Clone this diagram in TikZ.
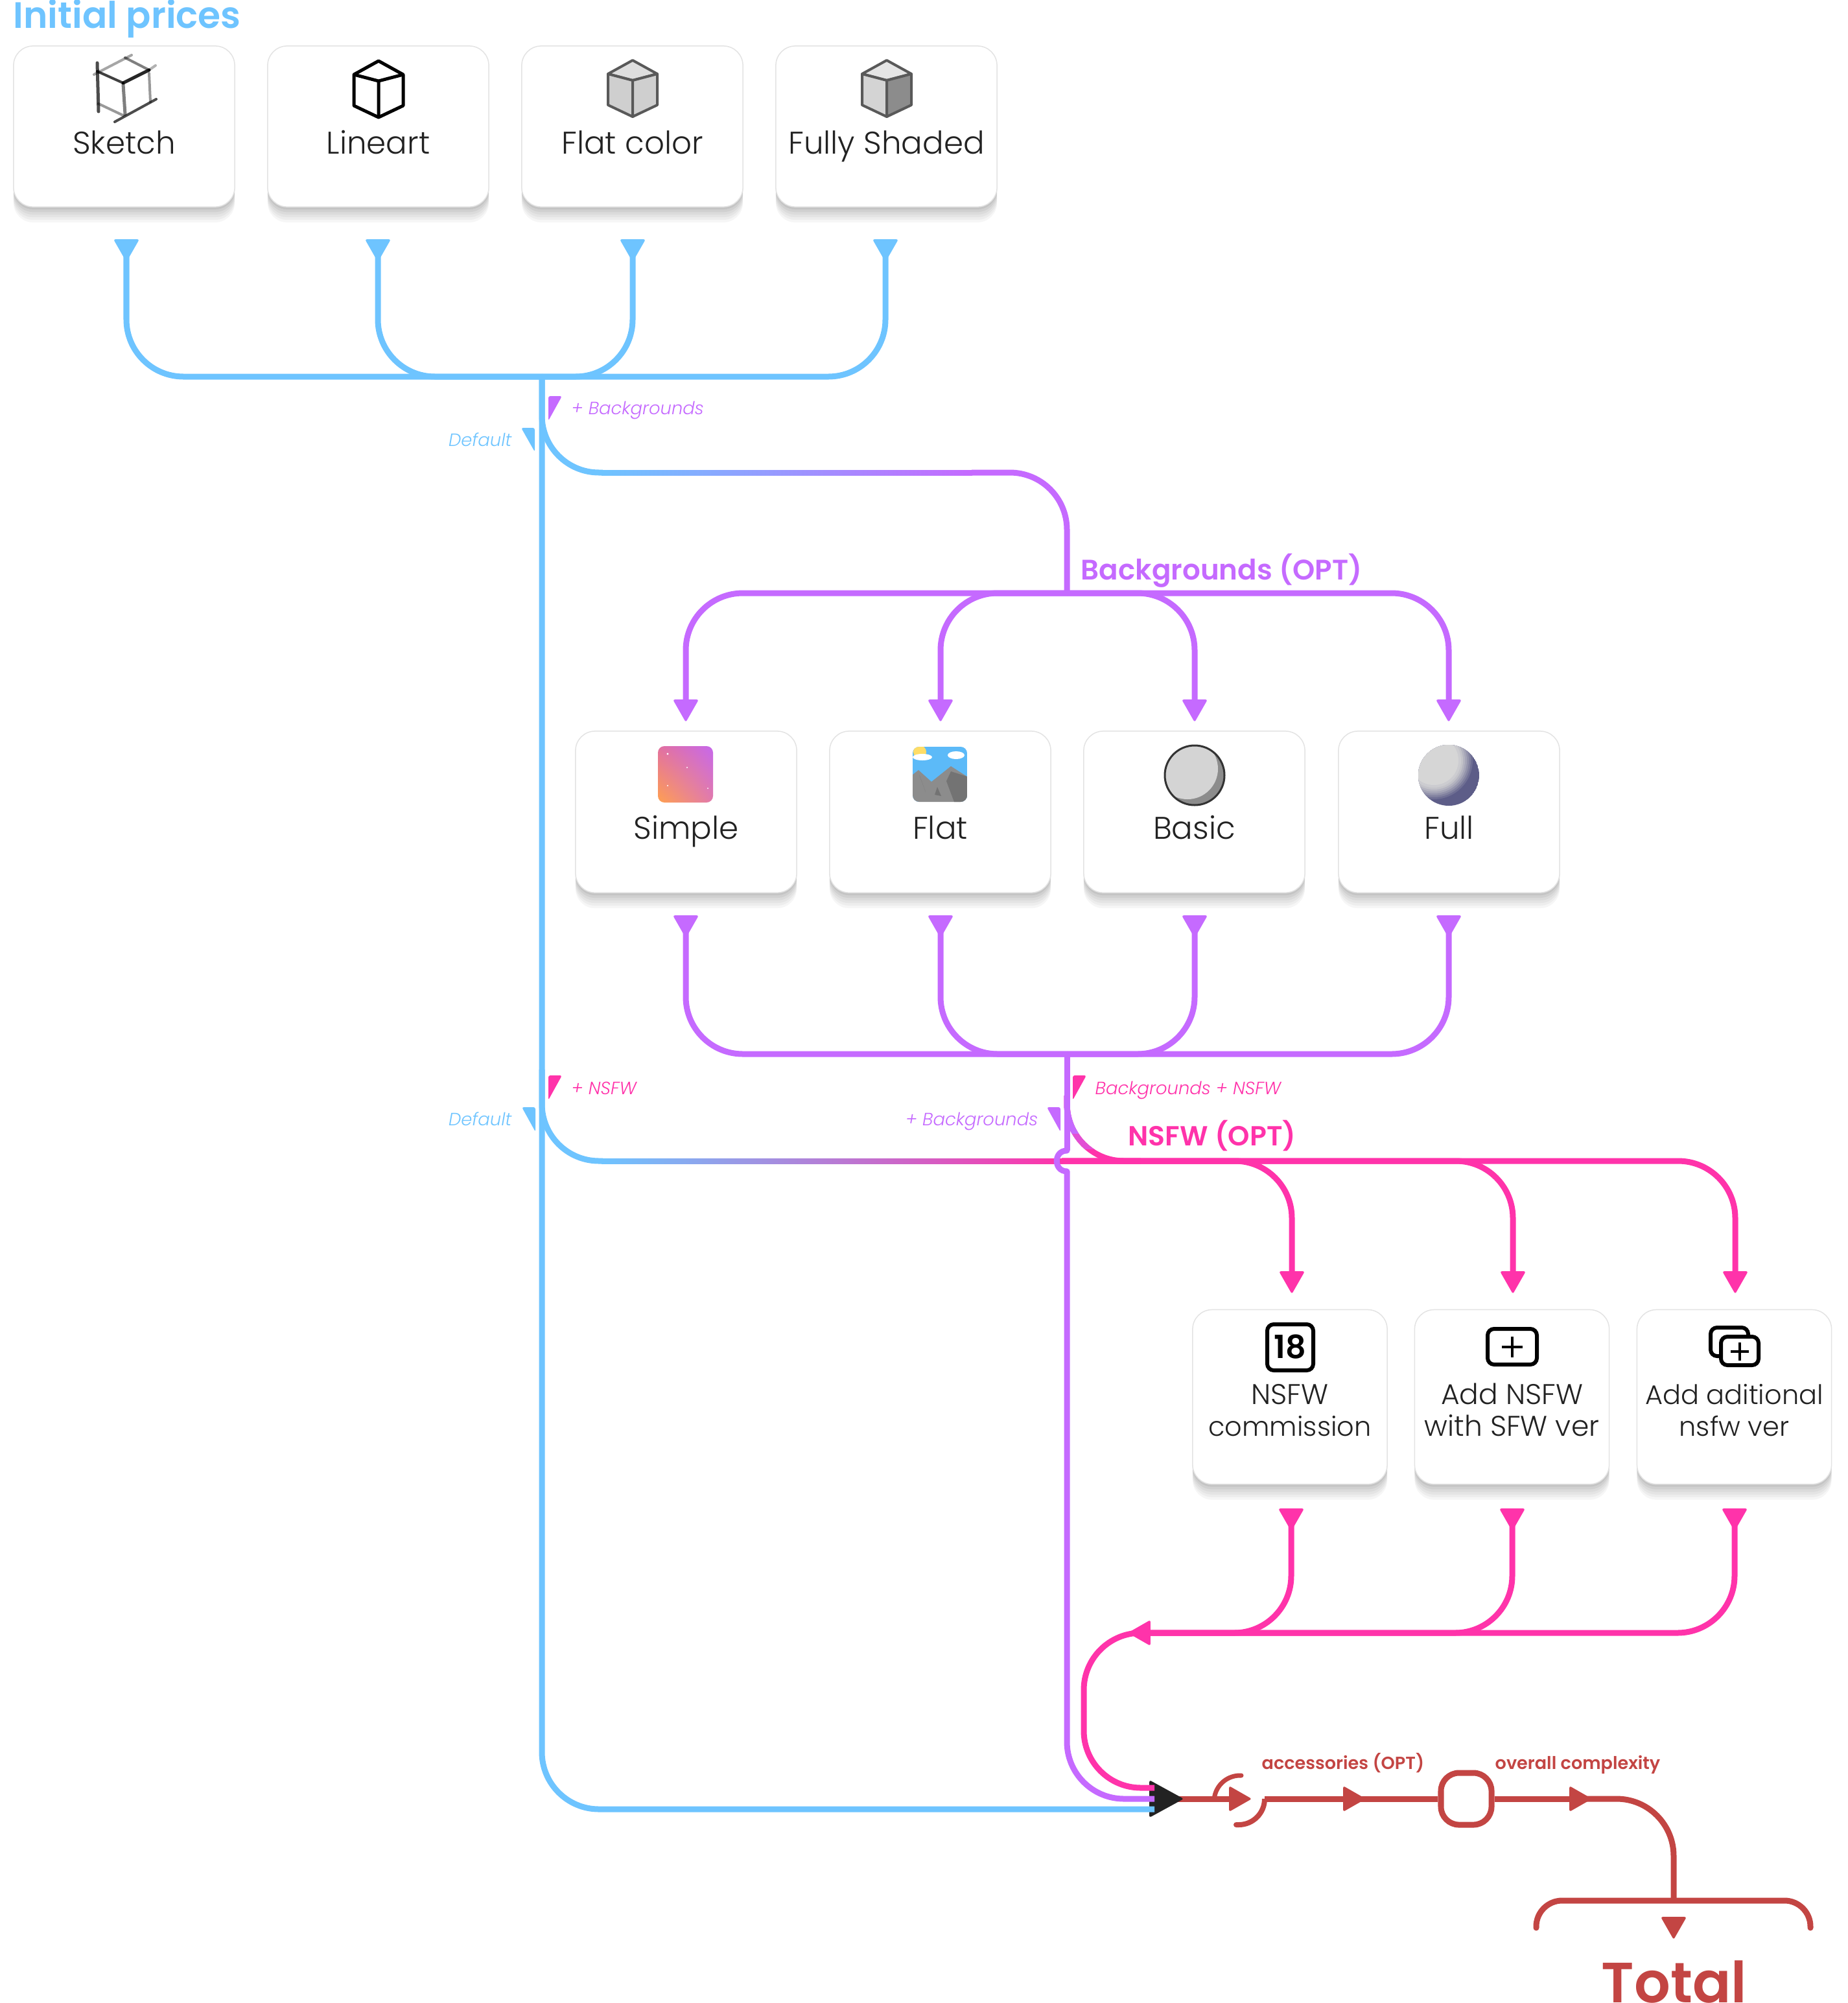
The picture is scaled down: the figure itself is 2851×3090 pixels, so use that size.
\documentclass[tikz,border=0pt]{standalone}
\usepackage{fontspec}
\setmainfont{Poppins Light}[BoldFont={Poppins SemiBold},ItalicFont={Poppins Light Italic}]
\usetikzlibrary{shapes.geometric}
\usetikzlibrary{shadows}
\usetikzlibrary{shadings}

\definecolor{skyline}{RGB}{110,196,255}
\definecolor{violetline}{RGB}{197,106,255}
\definecolor{pinkline}{RGB}{255,51,170}
\definecolor{redline}{RGB}{195,69,67}
\definecolor{inkdark}{RGB}{34,34,34}
\definecolor{dusk}{RGB}{93,93,136}
\definecolor{ballpale}{RGB}{214,214,214}
\definecolor{roseA}{RGB}{226,112,160}
\definecolor{roseB}{RGB}{198,104,236}
\definecolor{roseC}{RGB}{255,160,80}
\definecolor{roseD}{RGB}{226,122,170}
\definecolor{sunny}{RGB}{255,221,102}
\definecolor{skyicon}{RGB}{92,186,248}

\tikzset{
  card/.style={rectangle, rounded corners=0.3cm, fill=white, draw=black!11, line width=0.015cm,
    general shadow={fill=black, opacity=.035, shadow yshift=-0.24cm},
    general shadow={fill=black, opacity=.035, shadow yshift=-0.20cm},
    general shadow={fill=black, opacity=.04, shadow yshift=-0.16cm},
    general shadow={fill=black, opacity=.04, shadow yshift=-0.12cm},
    general shadow={fill=black, opacity=.05, shadow yshift=-0.08cm},
    general shadow={fill=black, opacity=.06, shadow yshift=-0.04cm}},
  cardtext/.style={inner sep=0pt, text=inkdark, align=center, font=\fontsize{13.75}{14}\selectfont},
  smalltext/.style={cardtext, font=\fontsize{11.8}{14}\selectfont},
  widetext/.style={cardtext, font=\fontsize{12.5}{14}\selectfont},
  hint/.style={inner sep=0pt, font=\fontsize{7.8}{10}\selectfont\itshape},
  heading/.style={inner sep=0pt, font=\fontsize{12.4}{15}\selectfont\bfseries},
  wedge/.style={isosceles triangle, isosceles triangle stretches, inner sep=0pt, rounded corners=0.03cm,
    minimum width=0.40cm, minimum height=0.35cm, shape border rotate=#1},
  wire/.style={line width=0.09cm, rounded corners=0.88cm},
  icon/.style={line width=0.06cm, rounded corners=0.1cm, draw=black},
  pencil/.style={line cap=round, line width=0.04cm, draw=black, opacity=#1}
}

\newcommand{\cubeicon}[5]{
\begin{scope}[shift={(#1,#2)}, line width=0.04cm, line join=round, draw=black!65]
\filldraw[fill=#3] (0,0) -- (38,21) -- (0,31) -- (-38,21) -- cycle;
\filldraw[fill=#4] (-38,21) -- (0,31) -- (0,87) -- (-38,69) -- cycle;
\filldraw[fill=#5] (38,21) -- (0,31) -- (0,87) -- (38,69) -- cycle;
\end{scope}
}

\begin{document}
\begin{tikzpicture}[x=0.01cm, y=-0.01cm]
\useasboundingbox (0,0) rectangle (2851,3090);

\node[heading, anchor=base west, text=skyline, font=\fontsize{16.1}{18}\selectfont\bfseries] (titleInit) at (20,43) {Initial prices};

\node[card, minimum width=3.41cm, minimum height=2.48cm] (cardSketch) at (191.5,195) {};
\node[card, minimum width=3.41cm, minimum height=2.48cm] (cardLineart) at (583.5,195) {};
\node[card, minimum width=3.41cm, minimum height=2.48cm] (cardFlatcolor) at (975.5,195) {};
\node[card, minimum width=3.41cm, minimum height=2.48cm] (cardShaded) at (1367.5,195) {};
\node[cardtext, anchor=base] (textSketch) at (191.5,237) {Sketch};
\node[cardtext, anchor=base] (textLineart) at (583.5,237) {Lineart};
\node[cardtext, anchor=base] (textFlatcolor) at (975.5,237) {Flat color};
\node[cardtext, anchor=base] (textShaded) at (1367.5,237) {Fully Shaded};

\draw[pencil=.35] (145,115) -- (203,85);
\draw[pencil=.5] (193,89) -- (230,108);
\draw[pencil=.75] (150,110) -- (190,128);
\draw[pencil=.85, line width=0.05cm] (190,128) -- (230,108);
\draw[pencil=.3] (230,108) -- (240,101);
\draw[pencil=.7, line width=0.05cm] (150,97) -- (152,172);
\draw[pencil=.5, line width=0.05cm] (190,130) -- (193,176);
\draw[pencil=.4] (230,113) -- (232,157);
\draw[pencil=.4] (152,160) -- (190,178);
\draw[pencil=.7] (177,188) -- (241,153);

\draw[line width=0.05cm, line join=round] (584,94) -- (622,115) -- (622,163) -- (584,181) -- (546,163) -- (546,115) -- cycle;
\draw[line width=0.05cm, line join=round] (546,115) -- (584,125) -- (622,115) (584,125) -- (584,181);
\cubeicon{976}{93}{black!13}{black!19}{black!19}
\cubeicon{1368}{93}{black!10}{black!17}{black!45}

\node[wedge=-90, fill=skyline, anchor=apex] (wedgeSketch) at (195,406) {};
\node[wedge=-90, fill=skyline, anchor=apex] (wedgeLineart) at (583,406) {};
\node[wedge=-90, fill=skyline, anchor=apex] (wedgeFlatcolor) at (976,406) {};
\node[wedge=-90, fill=skyline, anchor=apex] (wedgeShaded) at (1366,406) {};

\coordinate (hubInit) at (836,581);
\coordinate (fadeBgLeft) at (930,729);
\coordinate (fadeBgRight) at (1499,729);
\coordinate (hubBg) at (1646,915);
\coordinate (forkBlue) at (836,1650);
\coordinate (fadeNsfwLeft) at (930,1791);
\coordinate (mergeBlue) at (1781,2791);

\draw[wire, skyline] (wedgeSketch.center) |- (hubInit);
\draw[wire, skyline] (wedgeLineart.center) |- (hubInit);
\draw[wire, skyline] (wedgeFlatcolor.center) |- (hubInit);
\draw[wire, skyline] (wedgeShaded.center) |- (hubInit);

\draw[wire, skyline] (hubInit) |- (fadeBgLeft);
\shade[left color=skyline, right color=violetline] (928,725) rectangle (1500,733);
\draw[wire, violetline] (fadeBgRight) -| (hubBg);

\node[heading, anchor=base west, text=violetline] (titleBg) at (1667,894) {Backgrounds (OPT)};
\node[hint, anchor=base west, text=violetline] (hintBg) at (881,639) {+ Backgrounds};
\node[hint, anchor=base east, text=skyline] (hintDefaultA) at (790,688) {Default};
\fill[violetline, rounded corners=0.03cm] (846,611) -- (867,611) -- (846,649) -- cycle;
\fill[skyline, rounded corners=0.03cm] (825,660) -- (804,660) -- (825,697) -- cycle;

\node[wedge=-90, fill=violetline, anchor=apex] (inSimple) at (1058,1116) {};
\node[wedge=-90, fill=violetline, anchor=apex] (inFlat) at (1451,1116) {};
\node[wedge=-90, fill=violetline, anchor=apex] (inBasic) at (1843,1116) {};
\node[wedge=-90, fill=violetline, anchor=apex] (inFull) at (2235,1116) {};
\draw[wire, violetline] (hubBg) -| (inSimple.center);
\draw[wire, violetline] (hubBg) -| (inFlat.center);
\draw[wire, violetline] (hubBg) -| (inBasic.center);
\draw[wire, violetline] (hubBg) -| (inFull.center);

\node[card, minimum width=3.41cm, minimum height=2.49cm] (cardSimple) at (1058.5,1252.5) {};
\node[card, minimum width=3.41cm, minimum height=2.49cm] (cardFlat) at (1450.5,1252.5) {};
\node[card, minimum width=3.41cm, minimum height=2.49cm] (cardBasic) at (1842.5,1252.5) {};
\node[card, minimum width=3.41cm, minimum height=2.49cm] (cardFull) at (2235.5,1252.5) {};
\node[cardtext, anchor=base] (textSimple) at (1058.5,1294) {Simple};
\node[cardtext, anchor=base] (textFlat) at (1450.5,1294) {Flat};
\node[cardtext, anchor=base] (textBasic) at (1842.5,1294) {Basic};
\node[cardtext, anchor=base] (textFull) at (2235.5,1294) {Full};

\shade[rounded corners=0.1cm, upper left=roseA, upper right=roseB, lower left=roseC, lower right=roseD] (1015,1151) rectangle (1100,1238);
\fill[white] (1030,1163) circle (1.6) (1060,1184) circle (1.2) (1030,1212) circle (1.2) (1092,1216) circle (1);

\begin{scope}
\clip[rounded corners=0.1cm] (1408,1152) rectangle (1492,1237);
\fill[skyicon] (1408,1152) rectangle (1492,1237);
\fill[sunny] (1419,1160) circle (10);
\fill[white] (1423,1168) ellipse (15 and 5) (1475,1165) ellipse (13 and 6);
\fill[black!45] (1408,1195) -- (1417,1188) -- (1437,1206) -- (1467,1182) -- (1492,1198) -- (1492,1237) -- (1408,1237) -- cycle;
\fill[black!55] (1467,1190) -- (1492,1198) -- (1492,1237) -- (1472,1237) -- (1460,1205) -- cycle;
\fill[black!55] (1418,1195) -- (1428,1222) -- (1420,1200) -- cycle (1446,1214) -- (1452,1228) -- (1442,1226) -- cycle;
\end{scope}

\fill[black!45] (1843,1196) circle (47);
\begin{scope}
\clip (1843,1196) circle (47);
\fill[black!17] (1832,1186) circle (47);
\end{scope}
\draw[black!80, line width=0.03cm] (1843,1196) circle (46);

\begin{scope}
\clip (2235,1196) circle (47);
\fill[dusk] (2235,1196) circle (47);
\fill[dusk!85!ballpale] (2212,1173) circle (60);
\fill[dusk!70!ballpale] (2212,1173) circle (57);
\fill[dusk!55!ballpale] (2212,1173) circle (54);
\fill[dusk!40!ballpale] (2212,1173) circle (51);
\fill[dusk!28!ballpale] (2212,1173) circle (48);
\fill[dusk!16!ballpale] (2212,1173) circle (45);
\fill[dusk!8!ballpale] (2212,1173) circle (42);
\fill[ballpale] (2212,1173) circle (38);
\end{scope}

\node[wedge=-90, fill=violetline, anchor=apex] (outSimple) at (1058,1449) {};
\node[wedge=-90, fill=violetline, anchor=apex] (outFlat) at (1451,1449) {};
\node[wedge=-90, fill=violetline, anchor=apex] (outBasic) at (1843,1449) {};
\node[wedge=-90, fill=violetline, anchor=apex] (outFull) at (2235,1449) {};
\coordinate (hubLower) at (1646,1626);
\draw[wire, violetline] (outSimple.center) |- (hubLower);
\draw[wire, violetline] (outFlat.center) |- (hubLower);
\draw[wire, violetline] (outBasic.center) |- (hubLower);
\draw[wire, violetline] (outFull.center) |- (hubLower);

\draw[wire, skyline] (forkBlue) |- (fadeNsfwLeft);
\shade[left color=skyline, right color=pinkline] (928,1787) rectangle (1640,1795);
\coordinate (fadeNsfwRight) at (1638,1791);
\coordinate (forkViolet) at (1646,1690);
\coordinate (forkPink) at (1760,1791);
\node[wedge=-90, fill=pinkline, anchor=apex] (inNsfw) at (1993,1998) {};
\node[wedge=-90, fill=pinkline, anchor=apex] (inAdd) at (2334,1998) {};
\node[wedge=-90, fill=pinkline, anchor=apex] (inExtra) at (2677,1998) {};
\draw[wire, pinkline] (fadeNsfwRight) -| (inNsfw.center);
\draw[wire, pinkline] (fadeNsfwRight) -| (inAdd.center);
\draw[wire, pinkline] (fadeNsfwRight) -| (inExtra.center);
\draw[wire, pinkline] (forkViolet) |- (forkPink);
\begin{scope}
\clip (1600,1680) rectangle (1720,1772);
\draw[wire, violetline!50!pinkline] (forkViolet) |- (forkPink);
\end{scope}
\begin{scope}
\clip (1600,1680) rectangle (1720,1748);
\draw[wire, violetline] (forkViolet) |- (forkPink);
\end{scope}

\node[heading, anchor=base west, text=pinkline, font=\fontsize{12.1}{15}\selectfont\bfseries] (titleNsfw) at (1740,1767) {NSFW (OPT)};
\node[hint, anchor=base west, text=pinkline] (hintNsfw) at (881,1688) {+ NSFW};
\node[hint, anchor=base west, text=pinkline] (hintBoth) at (1689,1688) {Backgrounds + NSFW};
\node[hint, anchor=base east, text=skyline] (hintDefaultB) at (790,1736) {Default};
\node[hint, anchor=base east, text=violetline] (hintBgB) at (1602,1736) {+ Backgrounds};
\fill[pinkline, rounded corners=0.03cm] (846,1659) -- (867,1659) -- (846,1697) -- cycle;
\fill[pinkline, rounded corners=0.03cm] (1655,1659) -- (1676,1659) -- (1655,1697) -- cycle;
\fill[skyline, rounded corners=0.03cm] (826,1708) -- (805,1708) -- (826,1746) -- cycle;
\fill[violetline, rounded corners=0.03cm] (1636,1708) -- (1615,1708) -- (1636,1746) -- cycle;

\node[card, minimum width=3.00cm, minimum height=2.69cm] (cardNsfw) at (1990,2155) {};
\node[card, minimum width=3.00cm, minimum height=2.69cm] (cardAdd) at (2332.5,2155) {};
\node[card, minimum width=3.00cm, minimum height=2.69cm] (cardExtra) at (2675.5,2155) {};
\node[widetext, anchor=base] (textNsfw) at (1990,2166) {NSFW};
\node[smalltext, anchor=base] (textNsfwB) at (1990,2215) {commission};
\node[widetext, anchor=base] (textAdd) at (2332.5,2166) {Add NSFW};
\node[widetext, anchor=base] (textAddB) at (2332.5,2215) {with SFW ver};
\node[smalltext, anchor=base] (textExtra) at (2675.5,2166) {Add aditional};
\node[smalltext, anchor=base] (textExtraB) at (2675.5,2215) {nsfw ver};

\draw[icon] (1955,2043) rectangle (2026,2114);
\node[inner sep=0pt, font=\fontsize{14}{16}\selectfont\bfseries] (iconEighteen) at (1990,2078) {18};
\draw[icon] (2295,2050) rectangle (2371,2105);
\draw[line width=0.045cm] (2333,2062) -- (2333,2094) (2317,2078) -- (2349,2078);
\draw[icon] (2639,2048) rectangle (2697,2092);
\draw[icon, fill=white] (2655,2062) rectangle (2713,2106);
\draw[line width=0.045cm] (2684,2071) -- (2684,2099) (2670,2085) -- (2698,2085);

\node[wedge=-90, fill=pinkline, anchor=apex] (outNsfw) at (1992,2364) {};
\node[wedge=-90, fill=pinkline, anchor=apex] (outAdd) at (2333,2364) {};
\node[wedge=-90, fill=pinkline, anchor=apex] (outExtra) at (2676,2364) {};
\node[wedge=180, fill=pinkline, anchor=apex] (wedgeLoop) at (1738,2519) {};
\draw[wire, pinkline] (outNsfw.center) |- (wedgeLoop.center);
\draw[wire, pinkline] (outAdd.center) |- (wedgeLoop.center);
\draw[wire, pinkline] (outExtra.center) |- (wedgeLoop.center);

\coordinate (mergeHeart) at (1800,2775);
\node[wedge=0, fill=redline, anchor=apex] (redFirst) at (1933,2775) {};
\draw[wire, redline] (mergeHeart) -- (redFirst.center);
\node[wedge=0, fill=inkdark, anchor=apex, minimum width=0.58cm, minimum height=0.53cm] (mergeTip) at (1828,2775) {};
\coordinate (loopTurn) at (1672,2640);
\coordinate (mergePink) at (1781,2758);
\coordinate (mergeViolet) at (1781,2775);
\coordinate (bumpTop) at (1646,1775);
\coordinate (bumpEnd) at (1646,1807);
\draw[wire, pinkline] (wedgeLoop.center) -| (loopTurn);
\draw[wire, pinkline] (loopTurn) |- (mergePink);
\draw[wire, violetline] (hubLower) -- (bumpTop);
\draw[line width=0.09cm, violetline, line cap=round] (bumpTop) .. controls (1625,1775) and (1625,1807) .. (bumpEnd);
\draw[wire, violetline] (bumpEnd) |- (mergeViolet);
\draw[wire, skyline] (hubInit) |- (mergeBlue);

\node[wedge=0, fill=redline, anchor=apex] (redSecond) at (2109,2775) {};
\node[wedge=0, fill=redline, anchor=apex] (redThird) at (2458,2775) {};
\node[rectangle, draw=redline, line width=0.09cm, rounded corners=0.28cm, minimum width=0.78cm, minimum height=0.80cm] (redBox) at (2262,2775) {};
\coordinate (gapStart) at (1951,2775);
\coordinate (bracketHub) at (2582,2932);
\coordinate (bracketLeft) at (2370,2974);
\coordinate (bracketRight) at (2793,2974);
\draw[wire, redline, line cap=round, rounded corners=0.4cm, line width=0.07cm] (1873,2775) |- (1915,2739);
\draw[wire, redline, line cap=round, rounded corners=0.4cm, line width=0.08cm] (gapStart) |- (1907,2815);
\draw[wire, redline] (gapStart) -- (redBox.west);
\draw[wire, redline] (redBox.east) -- (redThird.center);
\draw[wire, redline] (redThird.center) -| (bracketHub);
\draw[wire, redline, line cap=round, rounded corners=0.4cm] (bracketLeft) |- (bracketHub) -| (bracketRight);
\node[wedge=-90, fill=redline, anchor=apex] (totalTip) at (2582,2994) {};

\node[heading, anchor=base west, text=redline, font=\fontsize{7.7}{9}\selectfont\bfseries] (labelAccessories) at (1946,2729) {accessories (OPT)};
\node[heading, anchor=base west, text=redline, font=\fontsize{7.7}{9}\selectfont\bfseries] (labelComplexity) at (2306,2729) {overall complexity};
\node[heading, anchor=base, text=redline, font=\fontsize{24.9}{28}\selectfont\bfseries] (labelTotal) at (2583,3089) {Total};
\end{tikzpicture}
\end{document}
